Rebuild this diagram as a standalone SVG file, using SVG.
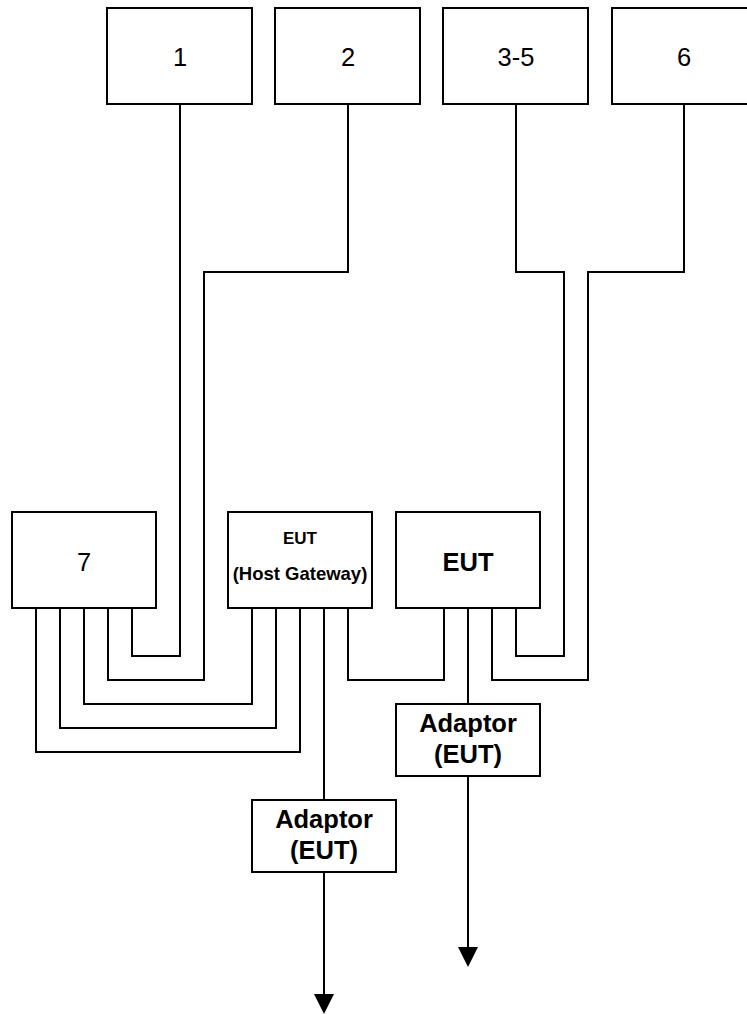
<svg xmlns="http://www.w3.org/2000/svg" width="747" height="1014" viewBox="0 0 747 1014">
<style>
.box{fill:#fff;stroke:#000;stroke-width:2}
.ln{fill:none;stroke:#000;stroke-width:2}
.t{font-family:"Liberation Sans",Arial,sans-serif;text-anchor:middle;fill:#000}
.n{font-size:25.5px}
.b{font-weight:bold}
</style>
<g id="connectors">
<polyline class="ln" points="180,104 180,656 132,656 132,608"/>
<polyline class="ln" points="348,104 348,272 204,272 204,680 108,680 108,608"/>
<polyline class="ln" points="516,104 516,272 564,272 564,656 516,656 516,608"/>
<polyline class="ln" points="684,104 684,272 588,272 588,680 492,680 492,608"/>
<polyline class="ln" points="84,608 84,704 252,704 252,608"/>
<polyline class="ln" points="60,608 60,728 276,728 276,608"/>
<polyline class="ln" points="36,608 36,752 300,752 300,608"/>
<polyline class="ln" points="348,608 348,680 444,680 444,608"/>
<line class="ln" x1="468" y1="608" x2="468" y2="704"/>
<line class="ln" x1="324" y1="608" x2="324" y2="800"/>
<path d="M468,776 V947" class="ln"/>
<path d="M458,947 L478,947 L468,967 Z" fill="#000"/>
<path d="M324,872 V994" class="ln"/>
<path d="M314,994 L334,994 L324,1014 Z" fill="#000"/>
</g>
<g id="n1"><rect class="box" x="107" y="8" width="145" height="96"/><text class="t n" x="180" y="66">1</text></g>
<g id="n2"><rect class="box" x="275" y="8" width="145" height="96"/><text class="t n" x="348" y="66">2</text></g>
<g id="n3"><rect class="box" x="443" y="8" width="145" height="96"/><text class="t n" x="516" y="66">3-5</text></g>
<g id="n6"><rect class="box" x="612" y="8" width="145" height="96"/><text class="t n" x="684" y="66">6</text></g>
<g id="n7"><rect class="box" x="12" y="512" width="144" height="96"/><text class="t n" x="84" y="571">7</text></g>
<g id="hostgw"><rect class="box" x="228" y="512" width="144" height="96"/><text class="t b" style="font-size:17px" x="300" y="544">EUT</text><text class="t b" style="font-size:18.5px" x="300" y="580">(Host Gateway)</text></g>
<g id="eut"><rect class="box" x="396" y="512" width="144" height="96"/><text class="t n b" x="468" y="571">EUT</text></g>
<g id="adaptor1"><rect class="box" x="396" y="704" width="144" height="72"/><text class="t n b" x="468" y="732">Adaptor</text><text class="t n b" x="468" y="763">(EUT)</text></g>
<g id="adaptor2"><rect class="box" x="252" y="800" width="144" height="72"/><text class="t n b" x="324" y="828">Adaptor</text><text class="t n b" x="324" y="859">(EUT)</text></g>
</svg>
